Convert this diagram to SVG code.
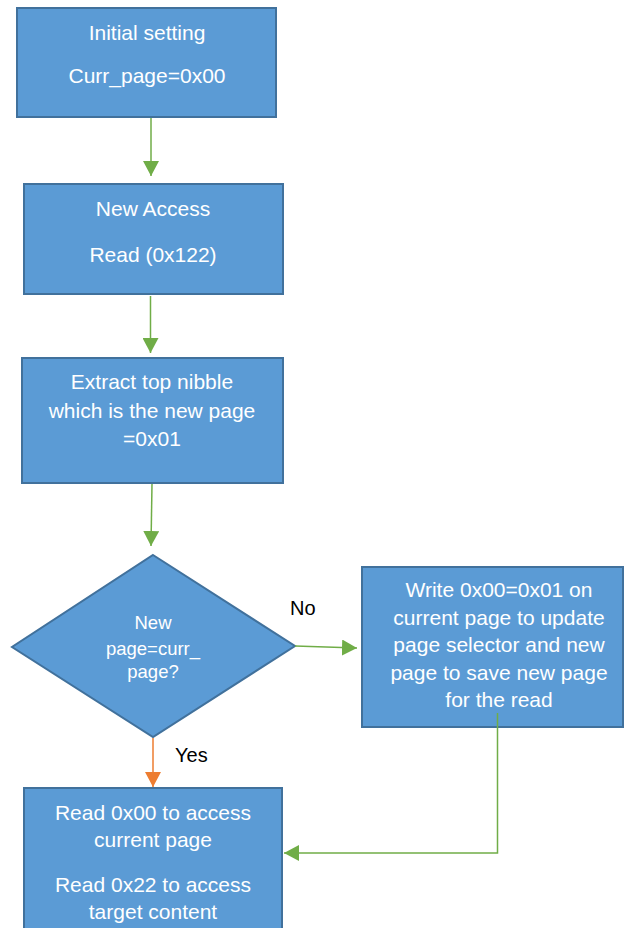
<svg xmlns="http://www.w3.org/2000/svg" width="625" height="928" viewBox="0 0 625 928">
  <style>
    .box { fill: #5B9BD5; stroke: #41719C; stroke-width: 2; }
    .t { fill: #ffffff; font-family: "Liberation Sans", Arial, sans-serif; font-size: 21px; text-anchor: middle; }
    .ts { font-size: 18.5px; }
    .lbl { fill: #000000; font-family: "Liberation Sans", Arial, sans-serif; font-size: 20px; }
    .g { fill: none; stroke: #70AD47; stroke-width: 1.5; }
    .o { fill: none; stroke: #ED7D31; stroke-width: 1.5; }
  </style>
  <defs>
    <marker id="ag" markerUnits="userSpaceOnUse" markerWidth="16" markerHeight="16" refX="15" refY="8" orient="auto">
      <path d="M0,0 L15,8 L0,16 z" fill="#70AD47"/>
    </marker>
    <marker id="ao" markerUnits="userSpaceOnUse" markerWidth="16" markerHeight="16" refX="15" refY="8" orient="auto">
      <path d="M0,0 L15,8 L0,16 z" fill="#ED7D31"/>
    </marker>
  </defs>

  <rect width="625" height="928" fill="#ffffff"/>

  <g id="node-initial">
    <rect class="box" x="17" y="8" width="259" height="109"/>
    <text class="t" x="147" y="40">Initial setting</text>
    <text class="t" x="147" y="83">Curr_page=0x00</text>
  </g>

  <g id="node-new-access">
    <rect class="box" x="24" y="184" width="259" height="110"/>
    <text class="t" x="153" y="216">New Access</text>
    <text class="t" x="153" y="262">Read (0x122)</text>
  </g>

  <g id="node-extract">
    <rect class="box" x="22" y="358" width="261" height="125"/>
    <text class="t" x="152" y="389">Extract top nibble</text>
    <text class="t" x="152" y="418">which is the new page</text>
    <text class="t" x="152" y="446">=0x01</text>
  </g>

  <g id="node-decision">
    <polygon class="box" points="153,555 295,646 153,737 12,647"/>
    <text class="t ts" x="153" y="629">New</text>
    <text class="t ts" x="153" y="655">page=curr_</text>
    <text class="t ts" x="153" y="678">page?</text>
  </g>

  <g id="node-write">
    <rect class="box" x="362" y="567" width="261" height="160"/>
    <text class="t" x="499" y="597">Write 0x00=0x01 on</text>
    <text class="t" x="499" y="625">current page to update</text>
    <text class="t" x="499" y="652">page selector and new</text>
    <text class="t" x="499" y="680">page to save new page</text>
    <text class="t" x="499" y="707">for the read</text>
  </g>

  <g id="node-read">
    <rect class="box" x="24" y="788" width="258" height="150"/>
    <text class="t" x="153" y="820">Read 0x00 to access</text>
    <text class="t" x="153" y="847">current page</text>
    <text class="t" x="153" y="892">Read 0x22 to access</text>
    <text class="t" x="153" y="919">target content</text>
  </g>

  <g id="labels">
    <text class="lbl" x="290" y="615">No</text>
    <text class="lbl" x="175" y="762">Yes</text>
  </g>

  <!-- connectors drawn last: the loop-back line starts inside the write box -->
  <g id="connectors">
    <line class="g" x1="151" y1="118" x2="151" y2="176" marker-end="url(#ag)"/>
    <line class="g" x1="150.5" y1="296" x2="150.5" y2="353" marker-end="url(#ag)"/>
    <line class="g" x1="152" y1="484" x2="151" y2="546" marker-end="url(#ag)"/>
    <line class="g" x1="295" y1="646" x2="357" y2="648" marker-end="url(#ag)"/>
    <polyline class="g" points="497.5,713 497.5,853 284,853" marker-end="url(#ag)"/>
    <line class="o" x1="153" y1="738" x2="153" y2="787" marker-end="url(#ao)"/>
  </g>
</svg>
